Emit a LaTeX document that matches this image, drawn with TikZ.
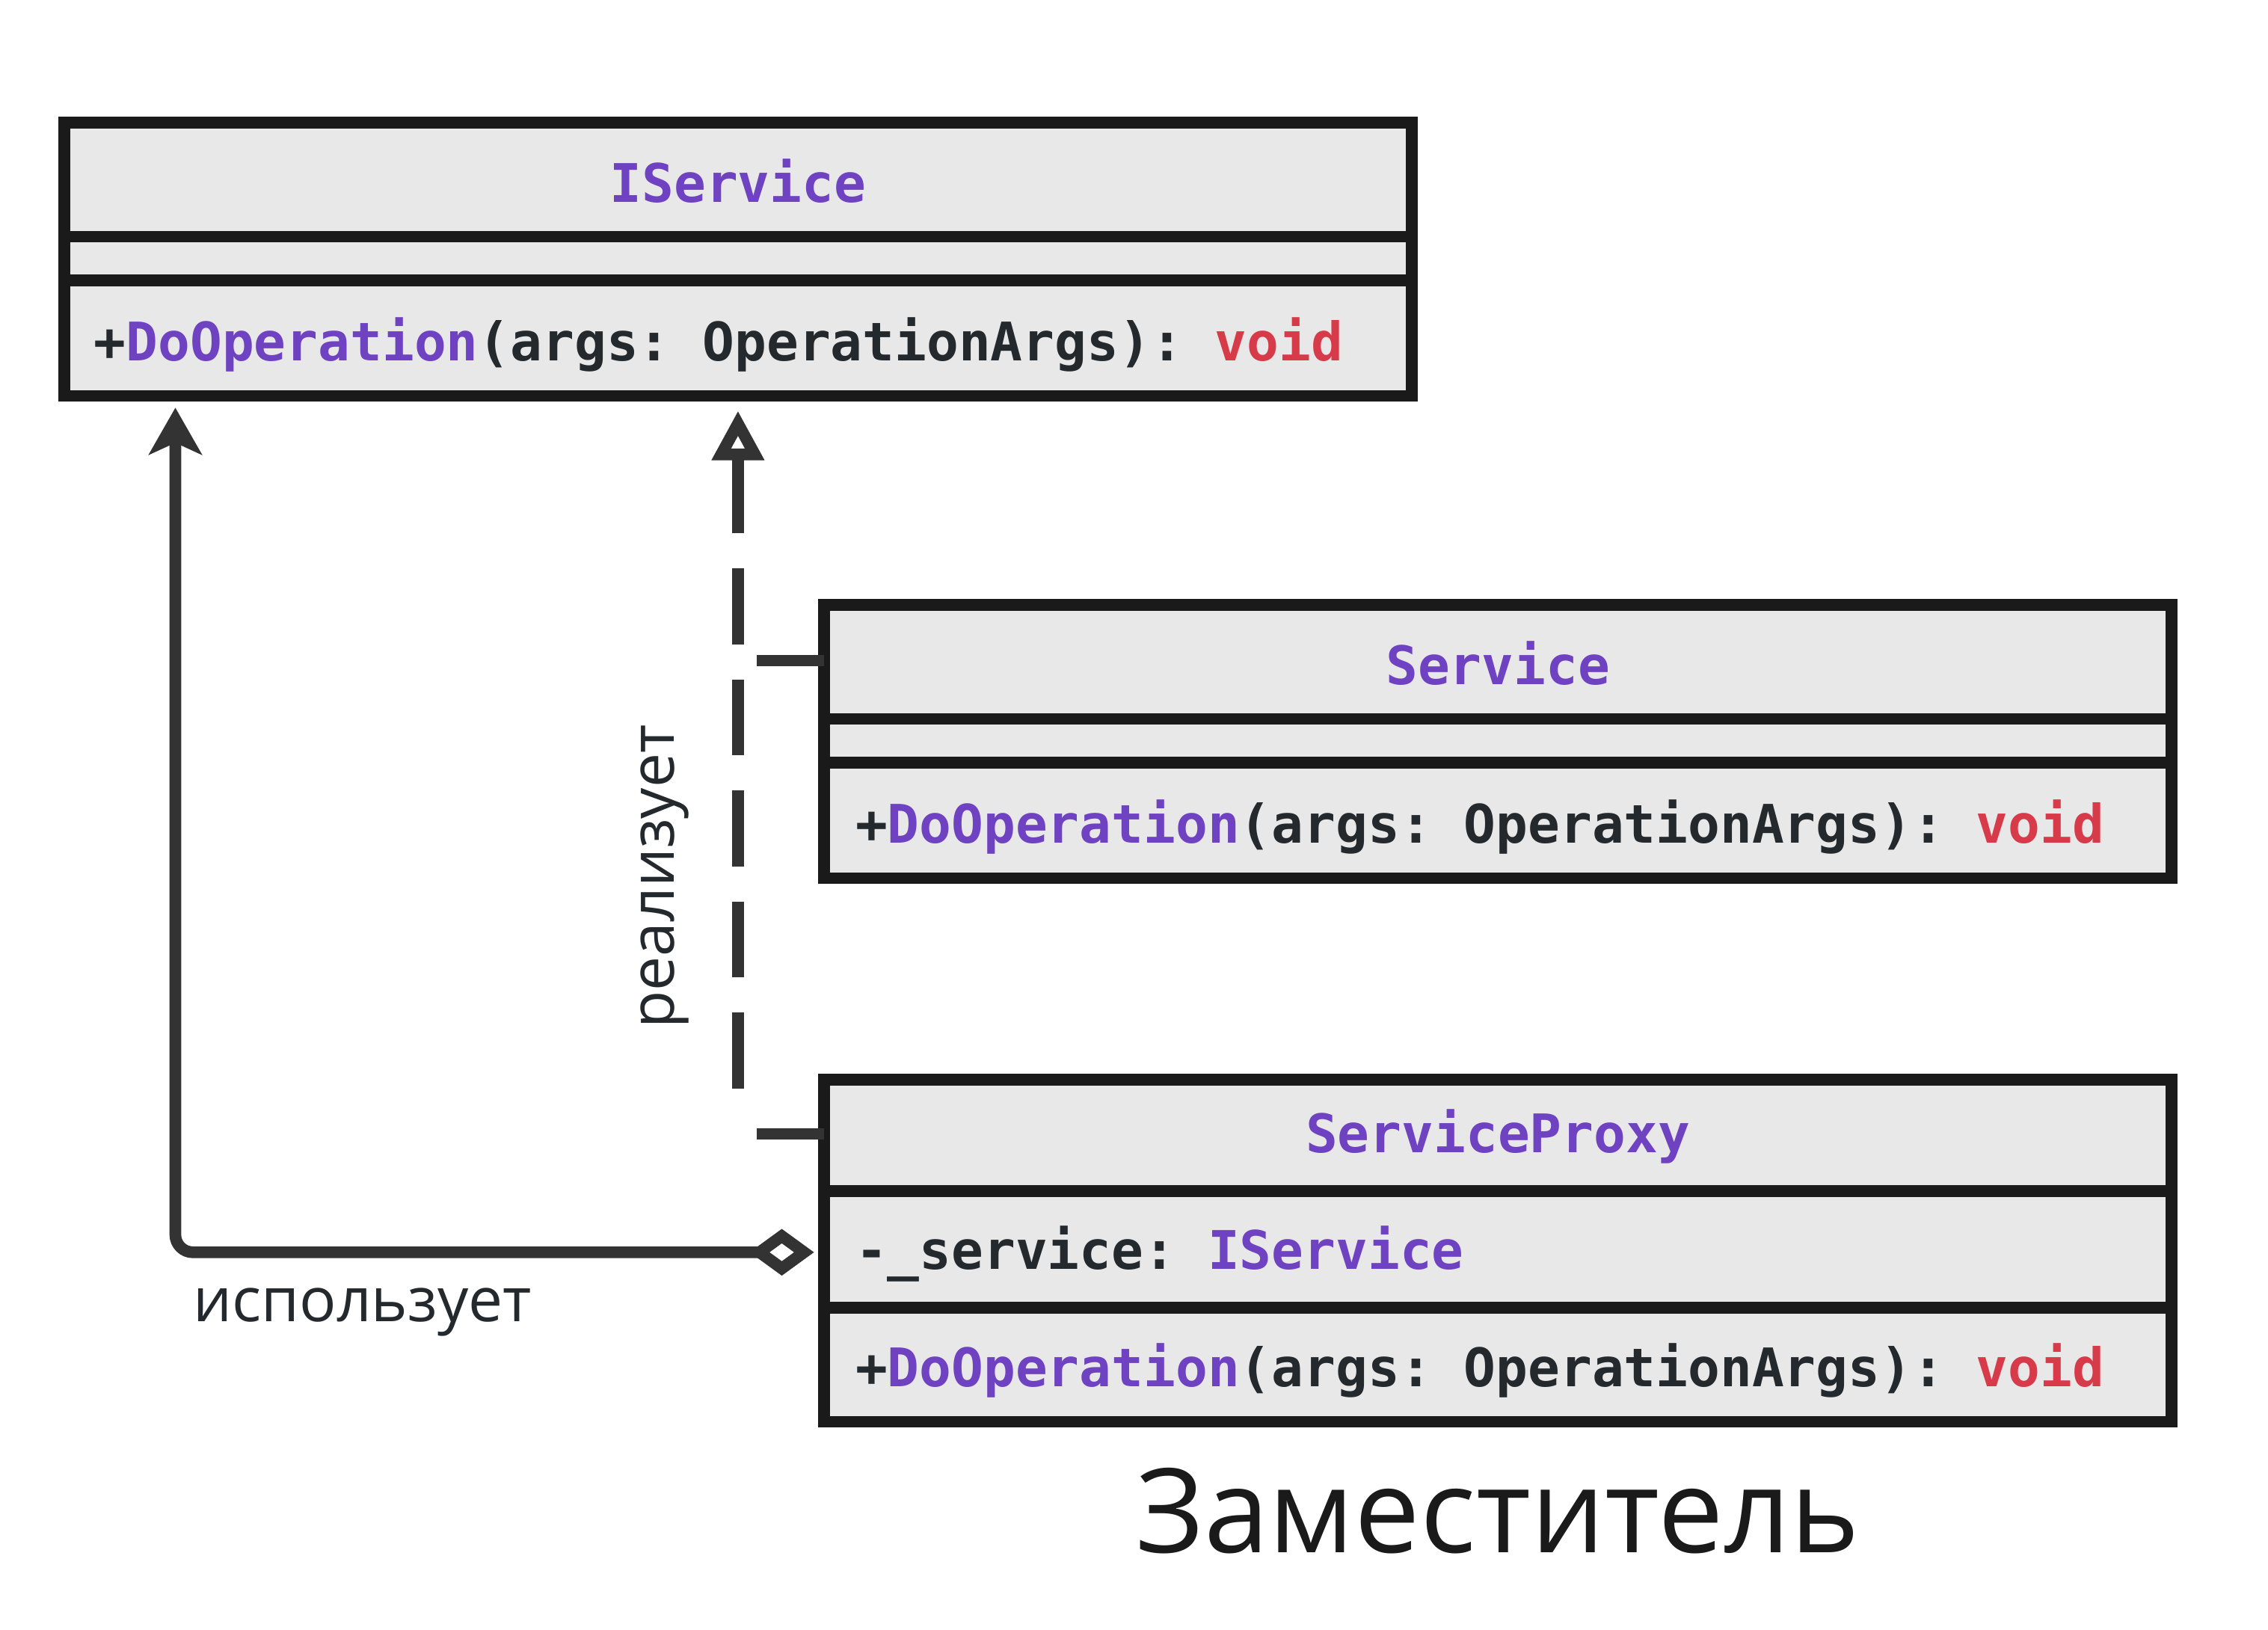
\documentclass[tikz,border=0pt]{standalone}
\usepackage{fontspec}
\setmainfont{Open Sans}
\setmonofont{DejaVu Sans Mono}
\usetikzlibrary{arrows.meta}
\definecolor{pur}{HTML}{6F42C1}
\definecolor{red}{HTML}{D73A49}
\definecolor{dk}{HTML}{24292E}
\definecolor{fillc}{HTML}{E8E8E8}
\definecolor{bord}{HTML}{1A1A1A}
\definecolor{arr}{HTML}{333333}
\begin{document}
\begin{tikzpicture}[x=0.5pt,y=-0.5pt,
  box/.style={draw=bord,fill=fillc,line width=4pt,minimum width=461pt,inner sep=0pt,outer sep=0pt},
  sep/.style={draw=bord,line width=4pt},
  mono/.style={font=\ttfamily\bfseries\fontsize{18.2}{20}\selectfont,text=dk,inner sep=0pt},
  conn/.style={draw=arr,line width=4pt},
  lbl/.style={font=\fontsize{21}{24}\selectfont,text=dk}]
\useasboundingbox (0,0) rectangle (1552,1115);
% IService
\node[box,minimum height=93.5pt] (is) at (505,177.5) {};
\draw[sep] (44,162) -- (966,162) (44,192) -- (966,192);
\node[mono,text=pur] (isn) at (505,124) {IService};
\node[mono,anchor=west] (ism) at (64,236) {+\textcolor{pur}{DoOperation}(args: OperationArgs): \textcolor{red}{void}};
% Service
\node[box,minimum height=93.5pt] (sv) at (1025,507.5) {};
\draw[sep] (564,492) -- (1486,492) (564,522) -- (1486,522);
\node[mono,text=pur] (svn) at (1025,454) {Service};
\node[mono,anchor=west] (svm) at (585,566) {+\textcolor{pur}{DoOperation}(args: OperationArgs): \textcolor{red}{void}};
% ServiceProxy
\node[box,minimum height=117pt] (px) at (1025,856) {};
\draw[sep] (564,815) -- (1486,815) (564,895) -- (1486,895);
\node[mono,text=pur] (pxn) at (1025,778) {ServiceProxy};
\node[mono,anchor=west] (pxf) at (585,858) {-\_service: \textcolor{pur}{IService}};
\node[mono,anchor=west] (pxm) at (585,938) {+\textcolor{pur}{DoOperation}(args: OperationArgs): \textcolor{red}{void}};
% connectors
\coordinate (d1) at (557,857);
\coordinate (c1) at (120,857);
\coordinate (t1) at (120,279);
\draw[conn,rounded corners=6pt,{Diamond[open,fill=white,length=22pt,width=16pt]}-{Stealth[length=16pt,width=18pt,inset=4pt]}] (d1) -- (c1) -- (t1);
\coordinate (j1) at (505,452);
\coordinate (j2) at (505,776);
\coordinate (t2) at (505,281);
\draw[conn] (sv.west |- j1) -- (518,452);
\draw[conn] (px.west |- j2) -- (518,776);
\draw[conn,dash pattern=on 26pt off 12pt] (505,745) -- (505,316);
\draw[conn,-{Triangle[open,length=17pt,width=17pt]}] (505,322) -- (t2);
\node[lbl] (uses) at (248,898) {использует};
\node[lbl,rotate=90] (impl) at (455,600) {реализует};
\node[font=\fontsize{40}{46}\selectfont,text=bord] (title) at (1025,1034) {Заместитель};
\end{tikzpicture}
\end{document}
